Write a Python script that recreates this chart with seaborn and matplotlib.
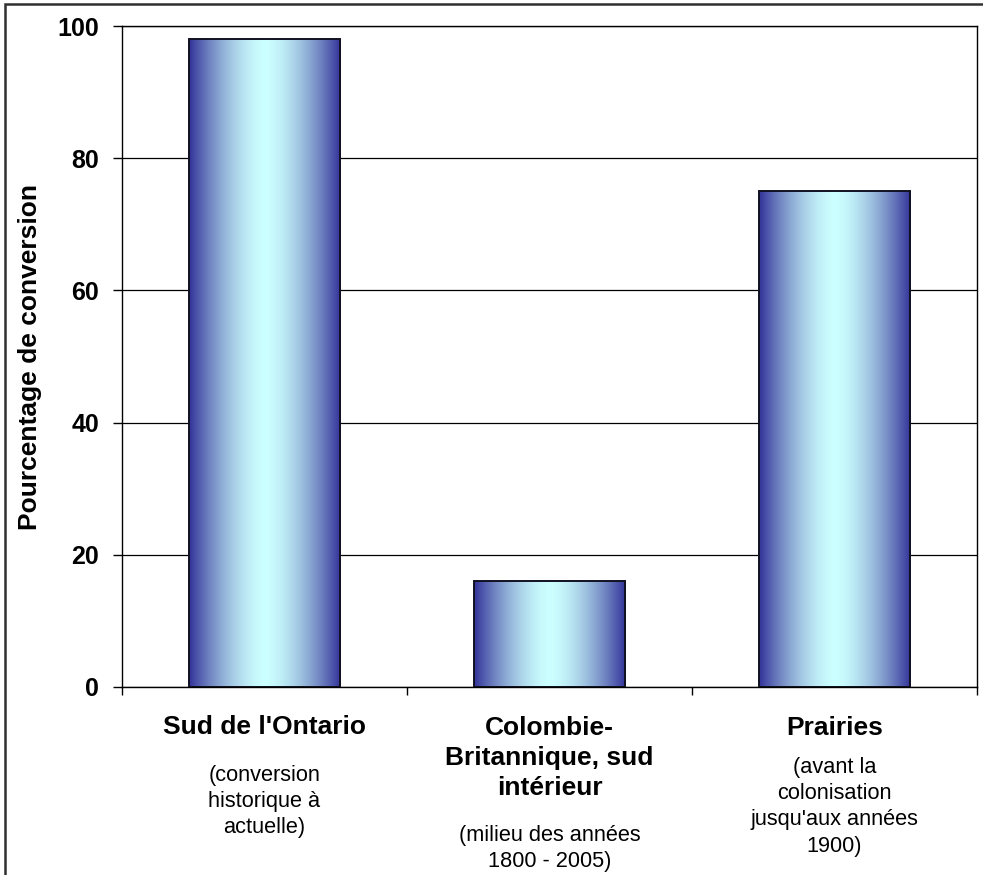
import numpy as np
import matplotlib
matplotlib.use("Agg")
import matplotlib.pyplot as plt
from matplotlib.patches import Rectangle
from matplotlib.transforms import blended_transform_factory
import seaborn as sns

# Data
categories = ["Sud de l'Ontario", "Colombie-\nBritannique, sud\nintérieur", "Prairies"]
values = [98, 16, 75]
periods = [
    ["(conversion", "historique à", "actuelle)"],
    ["(milieu des années", "1800 - 2005)"],
    ["(avant la", "colonisation", "jusqu'aux années", "1900)"],
]
y_ticks = [0, 20, 40, 60, 80, 100]
y_label = "Pourcentage de conversion"

sns.set_theme(style="white")
plt.rcParams["font.family"] = ["Liberation Sans", "DejaVu Sans"]
plt.rcParams.update({"text.color": "black", "axes.labelcolor": "black",
                     "xtick.color": "black", "ytick.color": "black"})

W, H = 983, 875
fig = plt.figure(figsize=(W / 100, H / 100), dpi=100)
fig.patch.set_facecolor("white")

# plot area in pixel coordinates
left, right, top, bottom = 122, 977, 26, 687
ax = fig.add_axes([left / W, (H - bottom) / H, (right - left) / W, (bottom - top) / H])

sns.barplot(x=categories, y=values, width=0.53, color="white",
            edgecolor="#111122", linewidth=1.4, ax=ax)

# horizontal gradient: dark blue edges, pale cyan centre
dark = np.array([51, 51, 153]) / 255
light = np.array([204, 255, 255]) / 255
t = (np.abs(np.linspace(-1, 1, 300)) ** 1.6)[None, :, None]
grad = light + (dark - light) * t

for p in ax.patches:
    x0, w, h = p.get_x(), p.get_width(), p.get_height()
    im = ax.imshow(grad, extent=[x0, x0 + w, 0, h], aspect="auto",
                   interpolation="bilinear", zorder=1.5)
    im.set_clip_path(p)
    p.set_facecolor("none")
    p.set_zorder(2)

ax.set_xlim(-0.5, len(categories) - 0.5)
ax.set_ylim(0, 100)
ax.set_yticks(y_ticks)
ax.set_yticklabels([str(v) for v in y_ticks], fontsize=18, fontweight="bold")
ax.set_ylabel("")
ax.set_xlabel("")
ax.set_axisbelow(True)
ax.yaxis.grid(True, color="black", linewidth=0.9)
ax.xaxis.grid(False)
ax.tick_params(axis="y", left=True, direction="out", length=6.5, width=1,
               pad=10, colors="black")
ax.set_xticks(range(len(categories)))
ax.set_xticklabels([])
ax.tick_params(axis="x", which="major", length=0)
ax.set_xticks(np.arange(-0.5, len(categories)), minor=True)
ax.tick_params(axis="x", which="minor", bottom=True, direction="out",
               length=6, width=1, color="black")
for s in ax.spines.values():
    s.set_visible(True)
    s.set_color("black")
    s.set_linewidth(1)

fig.text(30 / W, 1 - ((top + bottom) / 2) / H, y_label, rotation=90,
         ha="center", va="center", fontsize=19, fontweight="bold", color="black")

# category labels with their period notes underneath
trans = blended_transform_factory(ax.transData, fig.transFigure)


def pix(y):
    return 1 - y / H


title_y = [727, 728, 728]
note_y = [775, 835, 767]
for i, (name, notes) in enumerate(zip(categories, periods)):
    for j, line in enumerate(name.split("\n")):
        ax.text(i, pix(title_y[i] + 30 * j), line, transform=trans, color="black",
                ha="center", va="center", fontsize=19, fontweight="bold")
    for j, line in enumerate(notes):
        ax.text(i, pix(note_y[i] + 26.5 * j), line, transform=trans, color="black",
                ha="center", va="center", fontsize=15.7)

# chart area border
fig.add_artist(Rectangle((5 / W, -0.5), 2, pix(4) + 0.5, transform=fig.transFigure,
                         fill=False, edgecolor="#303030", linewidth=1.8))

fig.savefig("out.png", dpi=100)
